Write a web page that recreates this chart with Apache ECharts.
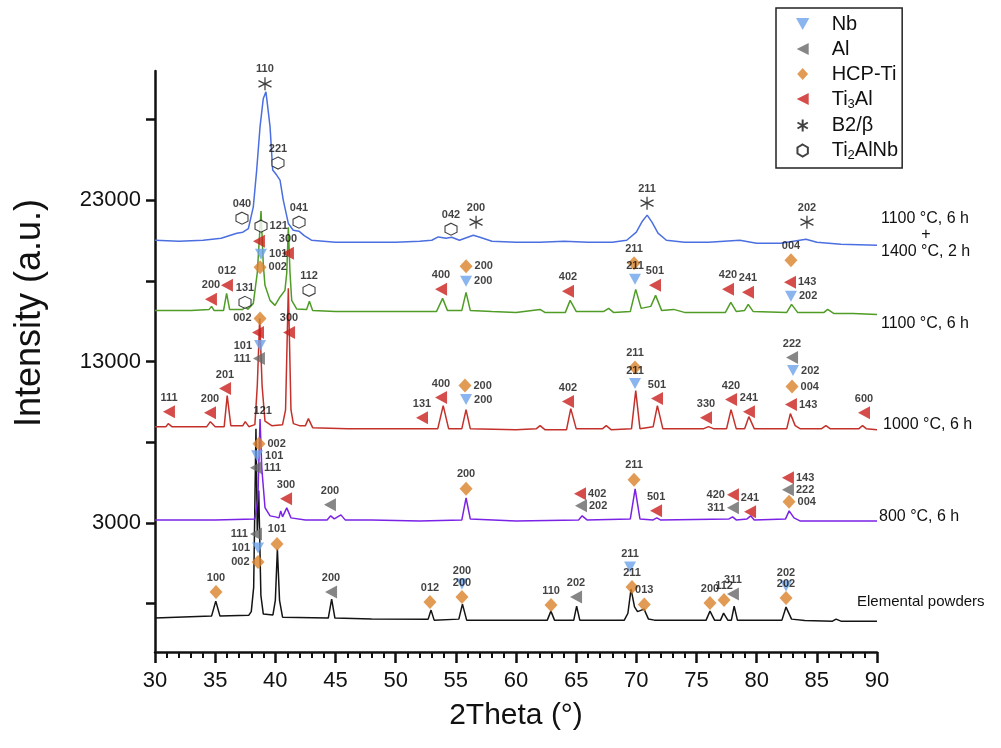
<!DOCTYPE html>
<html>
<head>
<meta charset="utf-8">
<script src="https://cdn.jsdelivr.net/npm/echarts@6/dist/echarts.min.js"></script>
<style>
  html, body { margin: 0; padding: 0; background: #fff; }
  #chart { width: 1001px; height: 748px; }
</style>
</head>
<body>
<div id="chart"></div>
<script>
// XRD patterns, [2theta, intensity]
const powders = [[30,-2900],[34.7,-2776],[35.05,-1845],[35.4,-2776],[37.8,-2720],[38.0,-2500],[38.2,-1000],[38.39,8838],[38.5,2500],[38.62,5000],[38.8,-1500],[39.0,-2650],[39.8,-2700],[40.0,-1800],[40.17,1385],[40.35,-1800],[40.6,-2840],
  [44.4,-2900],[44.68,-1720],[44.95,-2900],[48,-2950],[52.7,-2963],[52.94,-2404],[53.2,-3025],[55.25,-2963],[55.55,-2031],[55.9,-3025],[60,-3025],
  [62.6,-3025],[62.9,-2466],[63.2,-3025],[64.8,-3025],[65.04,-2155],[65.3,-3025],[69.0,-3025],[69.3,-2600],[69.56,-1099],[69.85,-2200],[70.1,-2500],[70.64,-2342],[71.0,-2950],[71.5,-3025],
  [74,-3025],[74.1,-2950],[74.3,-3025],[75.8,-3025],[76.12,-2466],[76.5,-3025],[77.0,-3025],[77.25,-2590],[77.6,-3025],[77.9,-3025],[78.13,-2155],[78.4,-3025],
  [82.1,-3025],[82.44,-2217],[82.9,-2963],[84,-3050],[86.3,-3087],[86.6,-2963],[87,-3087],[90,-3087]];

const c800 = [[30,3186],[35,3186],[38.3,3248],[38.55,4500],[38.73,9441],[38.87,6435],[39.14,3950],[39.56,3435],[40.0,3373],[40.3,3311],[40.45,3745],[40.6,3373],[40.95,3932],[41.3,3311],[42.5,3186],
  [44.3,3186],[44.6,3435],[44.9,3248],[45.45,3497],[45.8,3186],[48,3186],[52,3124],[55.5,3186],[55.85,4553],[56.2,3248],[60,3124],
  [65.2,3186],[65.5,3435],[65.9,3186],[69.5,3248],[69.9,5112],[70.3,3248],[71.4,3186],[71.7,3311],[72,3186],[77.7,3248],[78.0,3373],[78.3,3186],
  [79.2,3248],[79.5,3435],[79.8,3186],[82.4,3248],[82.7,3745],[83.1,3311],[83.6,3124],[90,3124]];

const c1000 = [[30,8962],[30.9,8962],[31.1,9149],[31.4,8962],[34.3,8962],[34.6,9273],[35.0,8962],[35.75,8962],[36.0,10888],[36.3,9025],[37.3,9025],[37.5,9273],[37.8,8962],
  [38.3,9087],[38.5,11500],[38.7,15670],[38.9,11500],[39.14,9300],[39.7,9025],[40.6,9087],[40.85,10000],[41.08,17533],[41.3,10000],[41.5,9150],[42.0,9025],
  [42.5,9025],[42.75,9459],[43.1,8900],[46,8838],[50,8838],[53.5,8838],[53.95,10267],[54.4,8838],[55.5,8838],[55.85,10019],[56.2,8838],[60,8776],
  [61.7,8838],[62.0,9025],[62.4,8776],[64.2,8776],[64.55,10081],[65.0,8838],[67.2,8838],[67.5,9025],[67.9,8776],[69.6,8838],[69.95,11199],[70.3,8838],
  [71.4,8962],[71.75,10267],[72.2,8838],[75.6,8838],[76.0,8962],[76.4,8838],[77.5,8838],[77.87,10019],[78.3,8838],[79.0,8838],[79.35,9584],[79.8,8838],
  [82.5,8838],[82.8,9770],[83.2,9025],[83.6,8838],[85.4,8838],[85.75,9025],[86.1,8838],[88.5,8838],[88.8,9025],[89.1,8838],[90,8776]];

const c1100 = [[30,16167],[33,16167],[34.5,16229],[34.7,16416],[34.9,16167],[35.7,16167],[35.95,17223],[36.2,16229],[37.3,16229],[37.5,16416],[37.7,16229],
  [38.17,16602],[38.5,18500],[38.81,22316],[39.0,19000],[39.14,17720],[39.56,16788],[39.97,16478],[40.39,17000],[40.8,17409],[40.95,18500],[41.08,21322],[41.22,18500],[41.36,16788],[41.77,16260],
  [42.6,16229],[42.83,16726],[43.1,16167],[45,16105],[48,16105],[50,16105],[53.4,16105],[53.9,16913],[54.3,16167],[55.5,16167],[55.85,17285],[56.2,16167],[58,16105],
  [60,16043],[62.0,16229],[62.4,16043],[64.1,16043],[64.5,16788],[65.0,16105],[67.3,16105],[67.7,16291],[68.1,16043],[69.5,16105],[69.95,17471],[70.4,16291],
  [71.2,16416],[71.6,17099],[72.1,16167],[73.1,16229],[74,16043],[77.4,16043],[77.85,16664],[78.3,16105],[79.0,16167],[79.3,16540],[79.7,16105],
  [82.5,16043],[82.9,16540],[83.4,16043],[85.6,16043],[85.9,16229],[86.4,15981],[88,15981],[90,15919]];

const c1400 = [[30,20515],[32,20453],[34,20515],[35.5,20639],[36.8,20950],[37.3,21012],[37.76,21240],[38.17,22584],[38.45,24862],[38.73,27552],[39.0,29300],[39.22,29707],
  [39.56,27552],[39.78,24862],[40.11,24552],[40.39,24242],[40.66,23000],[41.08,21553],[41.49,21136],[41.96,21074],[42.4,20800],[43,20515],
  [45,20391],[48,20391],[50,20391],[52,20453],[53.0,20515],[53.54,20720],[54.2,20640],[54.65,20702],[55.3,20515],[56.45,20826],[57,20702],[58,20453],
  [60,20391],[62,20391],[64,20453],[66,20391],[68,20391],[69.2,20515],[70,21012],[70.5,21695],[70.9,22068],[71.3,21633],[71.8,20950],[72.5,20515],
  [74,20391],[76,20391],[78.6,20515],[80,20329],[82,20329],[84.1,20577],[85,20391],[87,20266],[90,20204]];

// phase markers, [2theta, intensity, hkl], grouped by where the hkl text sits
const nbTop = [[55.51,-789,'200'],[69.48,267,'211'],[82.44,-913,'202'],[69.89,18093,'211'],[69.89,11633,'211']];
const nbRight = [[38.81,19645,'101'],[55.85,17969,'200'],[82.85,17037,'202'],[55.85,10640,'200'],[83.02,12441,'202'],[38.48,7161,'101']];
const nbLeft = [[38.73,13993,'101'],[38.56,1447,'101']];

const alTop = [[82.94,13248,'222'],[44.54,4118,'200'],[44.63,-1286,'200'],[64.99,-1596,'202'],[78.03,-1410,'311']];
const alRight = [[38.39,6416,'111'],[65.4,4056,'202'],[82.6,5050,'222']];
const alLeft = [[38.64,13186,'111'],[78.03,3932,'311'],[38.39,2317,'111']];

const tiTop = [[69.81,19086,'211'],[82.85,19273,'004'],[69.89,12627,'211'],[55.85,5112,'200'],[69.81,5671,'211'],[40.14,1696,'101'],[35.07,-1286,'100'],
  [52.85,-1907,'012'],[55.51,-1596,'200'],[62.91,-2093,'110'],[69.64,-975,'211'],[70.66,-2050,'013'],[76.12,-1969,'200'],[77.29,-1783,'112'],[82.44,-1658,'202']];
const tiRight = [[38.73,18838,'002'],[55.85,18900,'200'],[55.76,11509,'200'],[82.94,11447,'004'],[38.64,7907,'002'],[82.69,4304,'004']];
const tiLeft = [[38.73,15670,'002'],[38.56,578,'002']];

const ti3alTop = [[41.05,19707,'300'],[35.98,17720,'012'],[34.65,16850,'200'],[53.77,17472,'400'],[64.32,17347,'402'],[71.55,17720,'501'],[77.62,17472,'420'],
  [79.28,17285,'241'],[41.14,14801,'300'],[31.16,9894,'111'],[34.57,9832,'200'],[35.82,11323,'201'],[52.19,9521,'131'],[53.77,10764,'400'],[64.32,10515,'402'],
  [71.72,10702,'501'],[75.79,9521,'330'],[77.87,10640,'420'],[79.36,9894,'241'],[88.92,9832,'600'],[40.89,4491,'300'],[71.64,3745,'501'],[79.45,3683,'241'],
  [38.64,20453,''],[38.56,14801,'']];
const ti3alRight = [[82.77,17907,'143'],[82.85,10329,'143'],[65.32,4801,'402'],[82.6,5795,'143']];
const ti3alLeft = [[78.03,4739,'420']];

const b2Top = [[39.14,30204,'110'],[56.68,21633,'200'],[70.89,22813,'211'],[84.18,21633,'202']];

const ti2alnbTop = [[40.22,25298,'221'],[37.23,21881,'040'],[41.97,21633,'041'],[54.6,21198,'042'],[37.48,16664,'131'],[42.8,17410,'112']];
const ti2alnbRight = [[38.81,21384,'121']];

const looseLabels = [[38.95,9956,'121']];

const yTicks = [-2000, 3000, 8000, 13000, 18000, 23000, 28000];
const yLabels = [3000, 13000, 23000];
const phases = ['Nb', 'Al', 'HCP-Ti', 'Ti3Al', 'B2/β', 'Ti2AlNb'];

const FONT = 'Liberation Sans, Arial, Helvetica, sans-serif';

const symNb = 'path://M0,0 L10,0 L5,9 Z';
const symLeftTri = 'path://M10,0 L10,10 L0,5 Z';
const symDiamond = 'path://M5,0 L10,5.5 L5,11 L0,5.5 Z';
const symStar = 'path://M5,0 L5,10 M0.7,2.5 L9.3,7.5 M0.7,7.5 L9.3,2.5';
const symHex = 'path://M5,0 L9.33,2.5 L9.33,7.5 L5,10 L0.67,7.5 L0.67,2.5 Z';

function lineSeries(data, color) {
    return {
        type: 'line', data: data, symbol: 'none', z: 2, silent: true,
        lineStyle: { color: color, width: 1.5 }
    };
}

function markSeries(name, arr, side, symbol, size, itemStyle) {
    return {
        type: 'scatter', name: name, symbol: symbol, symbolSize: size, z: 5,
        itemStyle: itemStyle,
        data: arr.map(d => ({ value: [d[0], d[1]], name: d[2] })),
        label: {
            show: true, position: side, distance: 2,
            formatter: '{b}', fontSize: 11, fontWeight: 'bold', color: '#111', fontFamily: FONT
        }
    };
}

const stNb = { color: '#6da2ea' };
const stAl = { color: '#686868' };
const stTi = { color: '#d9822b' };
const stTi3al = { color: '#c9201d' };
const stB2 = { color: 'rgba(0,0,0,0)', borderColor: '#111', borderWidth: 1.3 };
const stHex = { color: '#fff', borderColor: '#111', borderWidth: 1.1 };

const chart = echarts.init(document.getElementById('chart'));

const series = [
    lineSeries(powders, '#141414'),
    lineSeries(c800, '#7a22e6'),
    lineSeries(c1000, '#c4302a'),
    lineSeries(c1100, '#4f9c26'),
    lineSeries(c1400, '#4b6fe0'),
    markSeries('Nb', nbTop, 'top', symNb, [12, 11], stNb),
    markSeries('Nb', nbRight, 'right', symNb, [12, 11], stNb),
    markSeries('Nb', nbLeft, 'left', symNb, [12, 11], stNb),
    markSeries('Al', alTop, 'top', symLeftTri, [12, 13], stAl),
    markSeries('Al', alRight, 'right', symLeftTri, [12, 13], stAl),
    markSeries('Al', alLeft, 'left', symLeftTri, [12, 13], stAl),
    markSeries('HCP-Ti', tiTop, 'top', symDiamond, [13, 14], stTi),
    markSeries('HCP-Ti', tiRight, 'right', symDiamond, [13, 14], stTi),
    markSeries('HCP-Ti', tiLeft, 'left', symDiamond, [13, 14], stTi),
    markSeries('Ti3Al', ti3alTop, 'top', symLeftTri, [12, 13], stTi3al),
    markSeries('Ti3Al', ti3alRight, 'right', symLeftTri, [12, 13], stTi3al),
    markSeries('Ti3Al', ti3alLeft, 'left', symLeftTri, [12, 13], stTi3al),
    markSeries('B2/β', b2Top, 'top', symStar, [13, 13], stB2),
    markSeries('Ti2AlNb', ti2alnbTop, 'top', symHex, [12, 12], stHex),
    markSeries('Ti2AlNb', ti2alnbRight, 'right', symHex, [12, 12], stHex),
    markSeries('loose', looseLabels, 'inside', 'circle', 0, { color: 'rgba(0,0,0,0)' })
];

const option = {
    animation: false,
    backgroundColor: '#fff',
    textStyle: { fontFamily: FONT, color: '#111' },
    grid: { left: 155, right: 124, top: 71, bottom: 96 },
    legend: {
        data: phases,
        orient: 'vertical',
        left: 776, top: 8,
        padding: [6, 4, 6, 20],
        itemWidth: 48, itemHeight: 12, itemGap: 5,
        borderColor: '#222', borderWidth: 1.5,
        selectedMode: false,
        formatter: function (n) {
            if (n === 'Ti3Al') return 'Ti{s|3}Al';
            if (n === 'Ti2AlNb') return 'Ti{s|2}AlNb';
            return n;
        },
        textStyle: {
            fontSize: 20, color: '#111', fontFamily: FONT,
            rich: { s: { fontSize: 13, verticalAlign: 'bottom', padding: [10, 0, 0, 0], fontFamily: FONT } }
        }
    },
    xAxis: {
        type: 'value', min: 30, max: 90, interval: 5,
        name: '2Theta (°)', nameLocation: 'middle', nameGap: 49,
        nameTextStyle: { fontSize: 30, color: '#111', fontFamily: FONT },
        axisLine: { show: true, onZero: false, lineStyle: { color: '#111', width: 2.5 } },
        axisTick: { show: true, length: 11, lineStyle: { color: '#111', width: 2.5 } },
        minorTick: { show: true, splitNumber: 5, length: 6, lineStyle: { color: '#111', width: 2 } },
        axisLabel: { fontSize: 22, color: '#111', margin: 18, fontFamily: FONT },
        splitLine: { show: false }
    },
    yAxis: {
        type: 'value', min: -5000, max: 31000,
        axisLine: { show: true, onZero: false, lineStyle: { color: '#111', width: 2.5 } },
        axisTick: { show: true, length: 9, customValues: yTicks, lineStyle: { color: '#111', width: 2.5 } },
        axisLabel: { customValues: yLabels, formatter: v => String(v), fontSize: 22, color: '#111', margin: 14, fontFamily: FONT },
        splitLine: { show: false }
    },
    graphic: [
        { type: 'text', x: 30, y: 313, rotation: Math.PI / 2, style: { text: 'Intensity (a.u.)', fontSize: 36, fill: '#111', align: 'center', verticalAlign: 'middle', fontFamily: FONT } },
        { type: 'text', x: 881, y: 219, style: { text: '1100 °C, 6 h', fontSize: 16, fill: '#111', verticalAlign: 'middle', fontFamily: FONT } },
        { type: 'text', x: 926, y: 235, style: { text: '+', fontSize: 16, fill: '#111', align: 'center', verticalAlign: 'middle', fontFamily: FONT } },
        { type: 'text', x: 881, y: 252, style: { text: '1400 °C, 2 h', fontSize: 16, fill: '#111', verticalAlign: 'middle', fontFamily: FONT } },
        { type: 'text', x: 881, y: 324, style: { text: '1100 °C, 6 h', fontSize: 16, fill: '#111', verticalAlign: 'middle', fontFamily: FONT } },
        { type: 'text', x: 883, y: 425, style: { text: '1000 °C, 6 h', fontSize: 16, fill: '#111', verticalAlign: 'middle', fontFamily: FONT } },
        { type: 'text', x: 879, y: 517, style: { text: '800 °C, 6 h', fontSize: 16, fill: '#111', verticalAlign: 'middle', fontFamily: FONT } },
        { type: 'text', x: 857, y: 602, style: { text: 'Elemental powders', fontSize: 15, fill: '#111', verticalAlign: 'middle', fontFamily: FONT } }
    ],
    series: series
};

chart.setOption(option);
</script>
</body>
</html>
